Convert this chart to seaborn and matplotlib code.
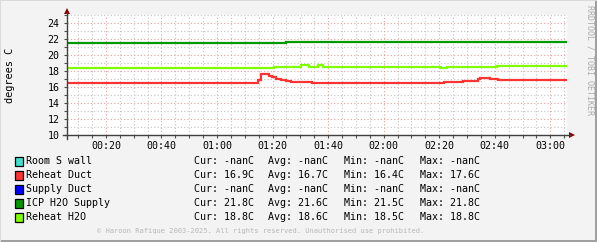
import numpy as np
import pandas as pd
import matplotlib
matplotlib.use("Agg")
import matplotlib.pyplot as plt
import seaborn as sns
from matplotlib.patches import Rectangle, Polygon
from matplotlib.lines import Line2D
from matplotlib.ticker import FixedLocator, MultipleLocator

# ---------------- data ----------------
series_names = ["Room S wall", "Reheat Duct", "Supply Duct", "ICP H2O Supply", "Reheat H2O"]
series_colors = ["#40E0D0", "#FF3333", "#0000FF", "#009900", "#80FF00"]
cur_vals = ["-nanC", "16.9C", "-nanC", "21.8C", "18.8C"]
avg_vals = ["-nanC", "16.7C", "-nanC", "21.6C", "18.6C"]
min_vals = ["-nanC", "16.4C", "-nanC", "21.5C", "18.5C"]
max_vals = ["-nanC", "17.6C", "-nanC", "21.8C", "18.8C"]

# time in minutes after 00:00, value in degrees C (step change points)
reheat_duct_t = [6, 74.7, 75.9, 78.7, 79.9, 81.1, 82.9, 84.7, 86.5, 90.1, 94.3,
                 141.6, 148.6, 153.9, 154.8, 158.4, 161.1, 167.8, 186]
reheat_duct_v = [16.45, 16.9, 17.6, 17.43, 17.23, 17.06, 16.89, 16.8, 16.68, 16.6, 16.48,
                 16.6, 16.73, 16.98, 17.18, 17.02, 16.93, 16.85, 16.85]
icp_supply_t = [6, 84.7, 151.6, 186]
icp_supply_v = [21.45, 21.58, 21.68, 21.68]
reheat_h2o_t = [6, 80.5, 90.3, 93.0, 96.3, 98.2, 140.5, 142.9, 160.9, 186]
reheat_h2o_v = [18.43, 18.56, 18.7, 18.56, 18.7, 18.56, 18.42, 18.56, 18.68, 18.68]

x_tick_pos = [20, 40, 60, 80, 100, 120, 140, 160, 180]
x_tick_labels = ["00:20", "00:40", "01:00", "01:20", "01:40", "02:00", "02:20", "02:40", "03:00"]
y_ticks = [10, 12, 14, 16, 18, 20, 22, 24]

df = pd.concat([
    pd.DataFrame({"t": reheat_duct_t, "v": reheat_duct_v, "series": "Reheat Duct"}),
    pd.DataFrame({"t": icp_supply_t, "v": icp_supply_v, "series": "ICP H2O Supply"}),
    pd.DataFrame({"t": reheat_h2o_t, "v": reheat_h2o_v, "series": "Reheat H2O"}),
], ignore_index=True)

# ---------------- figure ----------------
W, H = 597, 242
fig = plt.figure(figsize=(W / 100, H / 100), dpi=100)
fig.patch.set_facecolor("#F3F3F3")

def fx(px):
    return px / W

def fy(py):
    return 1 - py / H

MONO = "DejaVu Sans Mono"

ax = fig.add_axes([fx(67), fy(135), 500 / W, 120 / H])
ax.set_facecolor("white")

palette = dict(zip(series_names, series_colors))
sns.lineplot(data=df, x="t", y="v", hue="series", palette=palette,
             hue_order=["Reheat Duct", "ICP H2O Supply", "Reheat H2O"],
             drawstyle="steps-post", estimator=None, sort=False,
             linewidth=1.6, legend=False, ax=ax, zorder=5)
for ln in ax.lines:
    ln.set_solid_joinstyle("miter")
    ln.set_solid_capstyle("butt")

ax.set_xlim(6, 186)
ax.set_ylim(10, 25)
ax.set_xlabel("")
ax.set_ylabel("")

ax.xaxis.set_major_locator(FixedLocator(x_tick_pos))
ax.set_xticklabels(x_tick_labels)
ax.xaxis.set_minor_locator(MultipleLocator(5))
ax.yaxis.set_major_locator(FixedLocator(y_ticks))
ax.set_yticklabels([str(v) for v in y_ticks])
ax.yaxis.set_minor_locator(MultipleLocator(1))

ax.grid(which="minor", color="#C4C4C4", linestyle=(0, (1, 2)), linewidth=0.8)
ax.grid(which="major", color="#E6A0A0", linestyle=(0, (1, 2)), linewidth=0.8)
ax.set_axisbelow(True)

for s in ax.spines.values():
    s.set_visible(False)

ax.tick_params(which="both", direction="out", length=2, width=0.8, color="#505050")
ax.tick_params(axis="x", which="major", pad=2.5)
ax.tick_params(axis="y", which="major", pad=3.5)
for lab in ax.get_xticklabels() + ax.get_yticklabels():
    lab.set_fontfamily(MONO)
    lab.set_fontsize(7.2)
    lab.set_color("black")

# axis lines with arrows
fig.add_artist(Line2D([fx(62.5), fx(570)], [fy(135), fy(135)], color="#404040", lw=1.0))
fig.add_artist(Line2D([fx(67), fx(67)], [fy(139), fy(13)], color="#404040", lw=1.0))
fig.add_artist(Polygon([[fx(569), fy(132)], [fx(575), fy(135)], [fx(569), fy(138)]],
                       closed=True, color="#8B0000", lw=0))
fig.add_artist(Polygon([[fx(64), fy(14)], [fx(67), fy(8)], [fx(70), fy(14)]],
                       closed=True, color="#8B0000", lw=0))

# y label
fig.text(fx(10), fy(75), "degrees C", rotation=90, ha="center", va="center",
         fontfamily=MONO, fontsize=7.4, color="black")

# right watermark
fig.text(fx(590), fy(5), "RRDTOOL / TOBI OETIKER", rotation=270, ha="center", va="top",
         fontfamily=MONO, fontsize=6.0, color="#ABABAB")

# legend
row_y = [161, 175, 189, 203, 217]
for name, col, c, a, mn, mx, yy in zip(series_names, series_colors, cur_vals, avg_vals,
                                       min_vals, max_vals, row_y):
    fig.add_artist(Rectangle((fx(14.5), fy(yy + 4.5)), 8.5 / W, 9 / H,
                             facecolor=col, edgecolor="black", lw=0.9))
    kw = dict(ha="left", va="center", fontfamily=MONO, fontsize=7.2, color="black")
    fig.text(fx(26.5), fy(yy), name, **kw)
    fig.text(fx(194), fy(yy), "Cur: " + c, **kw)
    fig.text(fx(268.5), fy(yy), "Avg: " + a, **kw)
    fig.text(fx(344), fy(yy), "Min: " + mn, **kw)
    fig.text(fx(419.5), fy(yy), "Max: " + mx, **kw)

# footer
fig.text(fx(261), fy(231), "\u00a9 Haroon Rafique 2003-2025. All rights reserved. Unauthorised use prohibited.",
         ha="center", va="center", fontfamily=MONO, fontsize=5.15, color="#B8B8B8")

# shaded border (bottom/right)
fig.add_artist(Rectangle((fx(595), 0), 2 / W, 1, facecolor="#A0A0A0", lw=0))
fig.add_artist(Rectangle((0, 0), 1, 2 / H, facecolor="#A0A0A0", lw=0))
fig.add_artist(Rectangle((0, fy(1)), 1, 1 / H, facecolor="#DADADA", lw=0))
fig.add_artist(Rectangle((0, 0), 1 / W, 1, facecolor="#DADADA", lw=0))

fig.savefig("out.png", dpi=100, facecolor=fig.get_facecolor())
